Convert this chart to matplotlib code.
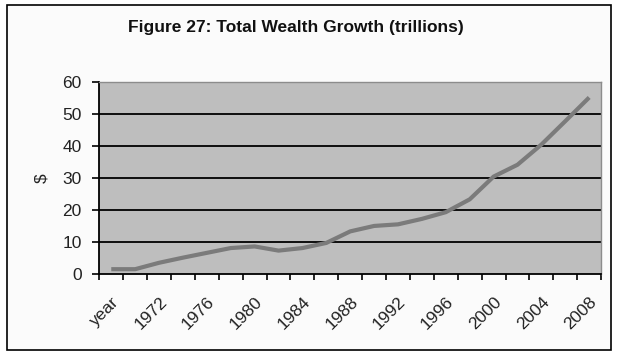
import matplotlib.pyplot as plt
from matplotlib.patches import Rectangle

# categories: the header cell "year" came along as the first category
categories = ["year"] + [str(y) for y in range(1970, 2009, 2)]
wealth = [1.5, 1.5, 3.5, 5.1, 6.6, 8.1, 8.6, 7.3, 8.1, 9.7, 13.3,
          15.0, 15.5, 17.2, 19.3, 23.3, 30.4, 34.1, 40.4, 47.7, 55.1]
yticks = [0, 10, 20, 30, 40, 50, 60]

plt.rcParams['font.family'] = ['Liberation Sans', 'DejaVu Sans']

fig = plt.figure(figsize=(6.18, 3.54), dpi=100)
fig.patch.set_facecolor('white')

# chart frame, kept behind the axes
frame = Rectangle((0.012, 0.012), 0.976, 0.975, transform=fig.transFigure,
                  facecolor='#fbfbfb', edgecolor='black', linewidth=1.2, zorder=-1)
fig.add_artist(frame)

ax = fig.add_axes([0.1607, 0.226, 0.812, 0.543])
ax.set_facecolor('#bebebe')

x = list(range(len(categories)))
ax.plot(x, wealth, color='#7b7b7b', linewidth=3, zorder=3, solid_capstyle='butt')

ax.set_xlim(-0.5, len(categories) - 0.5)
ax.set_ylim(0, 60)
ax.set_yticks(yticks)
ax.set_yticklabels([str(v) for v in yticks], fontsize=12.5, color='#222222')
for v in yticks[1:-1]:
    ax.axhline(v, color='black', linewidth=1.3, zorder=2)

# ticks between categories, labels on every other category
ax.set_xticks([i - 0.5 for i in range(len(categories) + 1)], minor=False)
ax.set_xticklabels([])
ax.set_xticks(x[::2], minor=True)
ax.set_xticklabels(categories[::2], minor=True, rotation=45, ha='right', va='top',
                   rotation_mode='anchor', fontsize=12.5, color='#222222')
ax.tick_params(axis='x', which='minor', length=0, pad=14.5)
ax.tick_params(axis='x', which='major', direction='out', length=4, width=1.2, color='black')
ax.tick_params(axis='y', direction='out', length=4.75, width=1.2, color='black', pad=8)

for side in ('top', 'right'):
    ax.spines[side].set_color('#8c8c8c')
    ax.spines[side].set_linewidth(1)
for side in ('left', 'bottom'):
    ax.spines[side].set_color('black')
    ax.spines[side].set_linewidth(1.3)

ax.set_ylabel('$', fontsize=12.5, labelpad=9.5, color='#222222')
fig.text(0.479, 0.922, 'Figure 27: Total Wealth Growth (trillions)',
         ha='center', va='center', fontsize=12.5, fontweight='bold', color='#111111')

fig.savefig('out.png', dpi=100)
